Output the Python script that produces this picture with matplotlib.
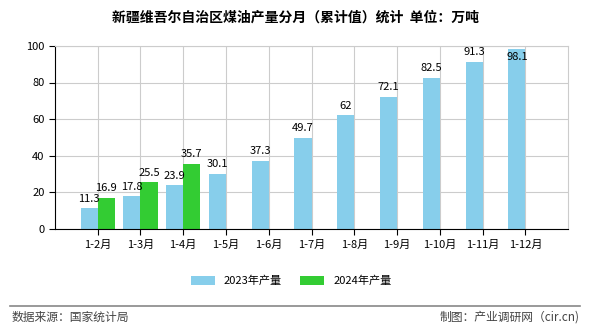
import numpy as np
import matplotlib.pyplot as plt

plt.rcParams['font.family'] = ['Noto Sans CJK SC', 'DejaVu Sans']

months = ["1-2月", "1-3月", "1-4月", "1-5月", "1-6月", "1-7月",
          "1-8月", "1-9月", "1-10月", "1-11月", "1-12月"]
prod_2023 = [11.3, 17.8, 23.9, 30.1, 37.3, 49.7, 62, 72.1, 82.5, 91.3, 98.1]
prod_2024 = [16.9, 25.5, 35.7]
labels_2023 = ["11.3", "17.8", "23.9", "30.1", "37.3", "49.7", "62", "72.1", "82.5", "91.3", "98.1"]
labels_2024 = ["16.9", "25.5", "35.7"]

c23 = "#87CEEB"
c24 = "#33CC33"

fig = plt.figure(figsize=(5.9, 3.3), dpi=100)
ax = fig.add_axes([0.093, 0.306, 0.870, 0.555])

x = np.arange(len(months))
w = 0.4
ax.bar(x - w/2, prod_2023, w, color=c23, label="2023年产量", zorder=2)
ax.bar(x[:len(prod_2024)] + w/2, prod_2024, w, color=c24, label="2024年产量", zorder=2)

ymax = 100
def put_labels(xs, vals, txts):
    for xi, v, t in zip(xs, vals, txts):
        if v > ymax - 6:
            # no room above the bar, tuck the label just under its top
            ax.text(xi, v - 1.5, t, ha="center", va="top", fontsize=8, zorder=3)
        else:
            ax.text(xi, v + 2.5, t, ha="center", va="bottom", fontsize=8, zorder=3)

put_labels(x - w/2, prod_2023, labels_2023)
put_labels(x[:len(prod_2024)] + w/2, prod_2024, labels_2024)

ax.set_xlim(-1, 11)
ax.set_ylim(0, ymax)
ax.set_xticks(x)
ax.set_xticklabels(months, fontsize=8)
ax.set_yticks(np.arange(0, 101, 20))
ax.tick_params(axis="y", labelsize=8, length=4)
ax.tick_params(axis="x", length=4)
ax.grid(True, color="#cccccc", linewidth=0.8, zorder=0)
for s in ["top", "right"]:
    ax.spines[s].set_color("#cccccc")
for s in ["left", "bottom"]:
    ax.spines[s].set_color("black")

ax.legend(loc="upper center", bbox_to_anchor=(0.46, -0.2), ncol=2, frameon=False,
          fontsize=8, handlelength=2.2, handleheight=0.8, columnspacing=1.6)

fig.text(0.5, 0.948, "新疆维吾尔自治区煤油产量分月（累计值）统计  单位：万吨",
         ha="center", va="center", fontsize=10, fontweight="bold")
fig.add_artist(plt.Line2D([0.017, 0.983], [0.073, 0.073], color="#888888", linewidth=1.2))
fig.text(0.02, 0.04, "数据来源：国家统计局", fontsize=8.5, color="#444444", va="center")
fig.text(0.982, 0.04, "制图：产业调研网（cir.cn)", fontsize=8.5, color="#444444", va="center", ha="right")

fig.savefig("out.png", dpi=100)
